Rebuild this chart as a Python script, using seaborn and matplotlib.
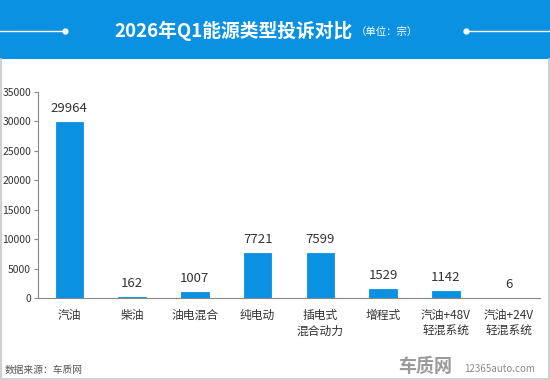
import matplotlib
matplotlib.use("Agg")
import matplotlib.pyplot as plt
import seaborn as sns
import pandas as pd
from matplotlib.patches import Rectangle
from matplotlib.lines import Line2D

categories = ["汽油", "柴油", "油电混合", "纯电动", "插电式\n混合动力", "增程式", "汽油+48V\n轻混系统", "汽油+24V\n轻混系统"]
values = [29964, 162, 1007, 7721, 7599, 1529, 1142, 6]
yticks = [0, 5000, 10000, 15000, 20000, 25000, 30000, 35000]

sns.set_theme(style="white")
plt.rcParams['font.family'] = ['Noto Sans CJK SC', 'DejaVu Sans']

BLUE = "#0b91e2"
df = pd.DataFrame({"cat": categories, "val": values})

fig = plt.figure(figsize=(5.5, 3.8), dpi=100)
fig.patch.set_facecolor("white")

# header
fig.patches.append(Rectangle((0, 1 - 59/380), 1, 59/380, transform=fig.transFigure,
                             facecolor=BLUE, edgecolor="none", zorder=0))
yl = 1 - 30.5/380
fig.lines.append(Line2D([0, 65/550], [yl, yl], transform=fig.transFigure, color="white", lw=1))
fig.lines.append(Line2D([466/550, 1], [yl, yl], transform=fig.transFigure, color="white", lw=1))
fig.lines.append(Line2D([65/550], [yl], transform=fig.transFigure, color="white", marker="o", ms=3.5))
fig.lines.append(Line2D([466/550], [yl], transform=fig.transFigure, color="white", marker="o", ms=3.5))
fig.text(234/550, yl, "2026年Q1能源类型投诉对比", ha="center", va="center", color="white",
         fontsize=13.5, fontweight="heavy")
fig.text(356/550, yl - 0.003, "（单位：宗）", ha="left", va="center", color="white", fontsize=7.5)

# border
fig.lines.append(Line2D([1/550, 1/550], [0, 1 - 59/380], transform=fig.transFigure, color="#d0d0d0", lw=1.5))
fig.lines.append(Line2D([549/550, 549/550], [0, 1 - 59/380], transform=fig.transFigure, color="#d0d0d0", lw=1.5))
fig.lines.append(Line2D([0, 1], [1/380, 1/380], transform=fig.transFigure, color="#d0d0d0", lw=1.5))

ax = fig.add_axes([38/550, 1 - 298/380, 502/550, 206/380])
sns.barplot(data=df, x="cat", y="val", color=BLUE, width=0.44, ax=ax, saturation=1,
            edgecolor=BLUE, linewidth=0.6)
ax.set_xlim(-0.5, len(categories) - 0.5)
ax.set_ylim(0, 35000)
ax.set_yticks(yticks)
ax.set_yticklabels([str(v) for v in yticks], fontsize=7.5, color="#333333")
ax.set_xlabel("")
ax.set_ylabel("")
ax.tick_params(axis="x", length=0, pad=8, labelsize=8.5, labelcolor="#333333")
ax.tick_params(axis="y", length=3, width=0.8, color="#888888", pad=2, left=True)
for lab in ax.get_xticklabels():
    lab.set_verticalalignment("top")
    lab.set_linespacing(1.25)
for s in ["top", "right"]:
    ax.spines[s].set_visible(False)
for s in ["left", "bottom"]:
    ax.spines[s].set_color("#888888")
    ax.spines[s].set_linewidth(0.8)
for i, v in enumerate(values):
    ax.annotate(str(v), (i, v), xytext=(0, 5), textcoords="offset points",
                ha="center", va="bottom", fontsize=9.5, color="#333333")

# footer
fig.text(5/550, 1 - 370/380, "数据来源：车质网", ha="left", va="center", fontsize=7, color="#555555")
fig.text(425/550, 1 - 367/380, "车质网", ha="center", va="center", fontsize=13, color="#9a9a9a",
         fontweight="heavy")
fig.text(500/550, 1 - 369/380, "12365auto.com", ha="center", va="center", fontsize=7, color="#8a8a8a")

fig.savefig("out.png", dpi=100, facecolor="white")
